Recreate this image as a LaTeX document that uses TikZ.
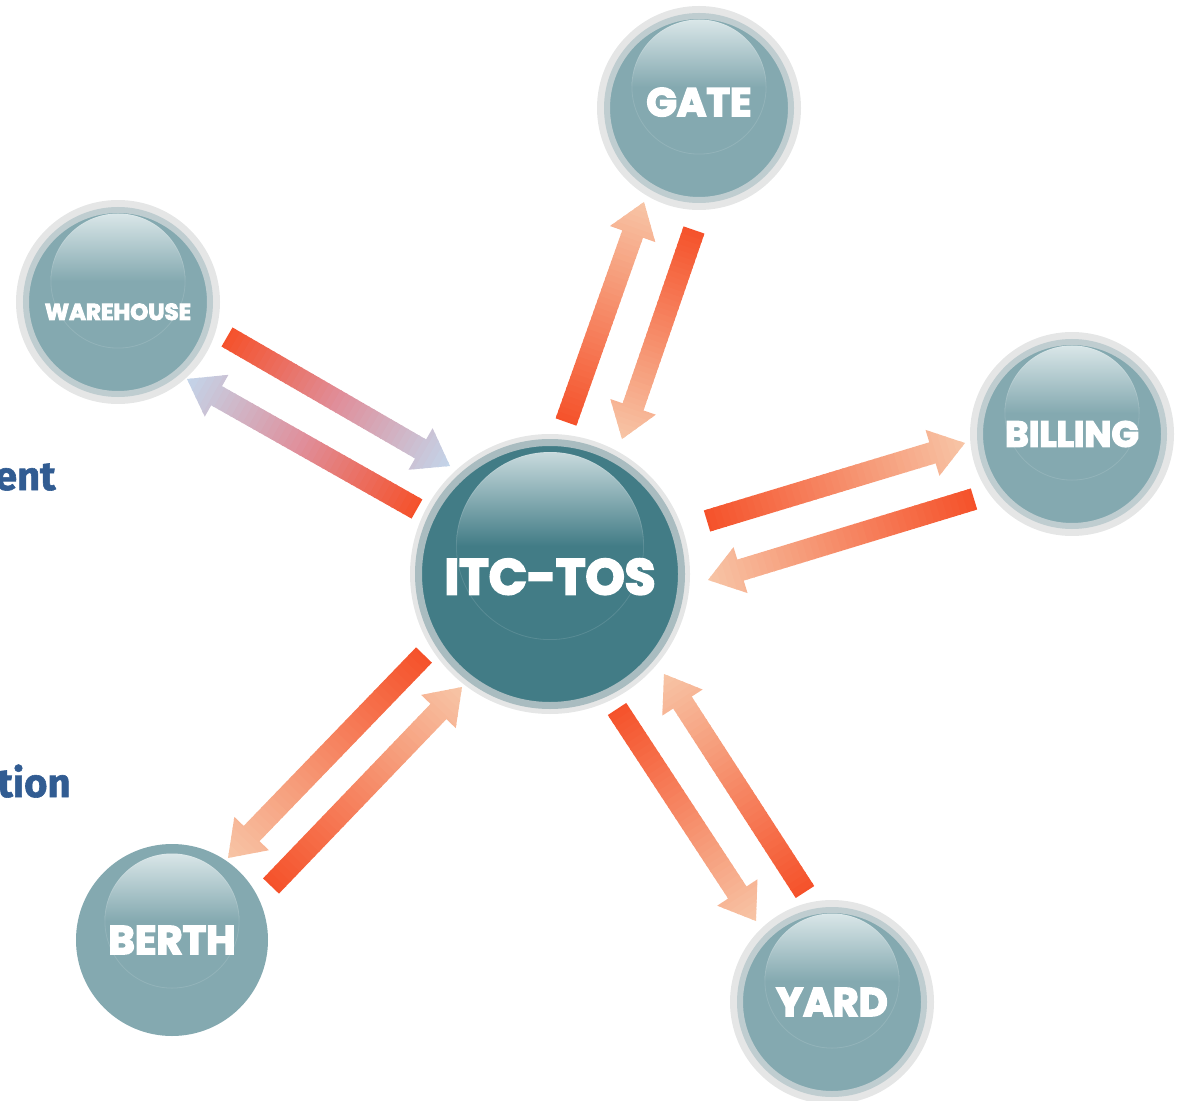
\documentclass[tikz,border=0pt]{standalone}
\usepackage{fontspec}
\usetikzlibrary{calc}

\newfontfamily\nodefont{Poppins}[FakeBold=4]
\newfontfamily\sidefont{Fira Sans}[FakeBold=1.5]

\definecolor{hubteal}{HTML}{427C86}
\definecolor{hubglare}{HTML}{C8DADD}
\definecolor{stationteal}{HTML}{84A9B0}
\definecolor{stationglare}{HTML}{D9E6E8}
\definecolor{hubring}{HTML}{A9BCC0}
\definecolor{stationring}{HTML}{BFCDD0}
\definecolor{ringlight}{HTML}{E5E6E6}
\definecolor{flowred}{HTML}{F5512A}
\definecolor{flowpeach}{HTML}{F7C5A6}
\definecolor{flowcoral}{HTML}{F68A67}
\definecolor{flowblue}{HTML}{C3D5EA}
\definecolor{flowpink}{HTML}{E08E9A}
\definecolor{sideblue}{HTML}{315C92}

% glossy cap: radius, lift, top of cap, light colour, base colour
\newcommand\glare[5]{%
  \begin{scope}
    \clip ([yshift=#2]path picture bounding box.center) circle (#1);
    \shade[top color=#4, middle color=#4!65!#5, bottom color=#5]
      ([xshift=-#1, yshift=#3]path picture bounding box.center)
      rectangle ([xshift=#1, yshift=#2]path picture bounding box.center);
    \draw[white, opacity=0.12, line width=0.8pt]
      ([yshift=#2]path picture bounding box.center) circle (#1);
  \end{scope}}

% fat arrow from #1 (tail) to #2 (tip), red running through #3 into #4
\newcommand\flowarrow[4]{%
  \begin{scope}
    \clip ($(#1)!5.5pt!90:(#2)$) -- ($(#2)!17.87pt!-17.93:(#1)$)
      -- ($(#2)!20.81pt!-35.22:(#1)$) -- (#2)
      -- ($(#2)!20.81pt!35.22:(#1)$) -- ($(#2)!17.87pt!17.93:(#1)$)
      -- ($(#1)!5.5pt!-90:(#2)$) -- cycle;
    \coordinate (fl-a) at ($(#1)!14pt!90:(#2)$);
    \coordinate (fl-b) at ($(#1)!14pt!-90:(#2)$);
    \coordinate (fl-c) at ($(#2)!14pt!-90:(#1)$);
    \coordinate (fl-d) at ($(#2)!14pt!90:(#1)$);
    \foreach \i in {0,...,40}{
      \pgfmathsetmacro\pos{\i/40}
      \ifnum\i<20
        \pgfmathtruncatemacro\mixpct{100-5*\i}
        \colorlet{flowfill}{flowred!\mixpct!#3}
      \else
        \pgfmathtruncatemacro\mixpct{200-5*\i}
        \colorlet{flowfill}{#3!\mixpct!#4}
      \fi
      \draw[line width=4pt, flowfill]
        ($(fl-a)!\pos!(fl-c)$) -- ($(fl-b)!\pos!(fl-d)$);
    }
  \end{scope}%
}

\begin{document}
\begin{tikzpicture}[x=0.5pt, y=-0.5pt,
    % round buttons
    bubble/.style={
        circle,
        inner sep=0pt,
        text=white
    },
    hub/.style={
        bubble,
        minimum size=131.5pt,
        fill=hubteal,
        draw=hubring,
        line width=3.5pt,
        preaction={draw=ringlight, line width=8.5pt},
        path picture={\glare{47pt}{14pt}{61pt}{hubglare}{hubteal}},
        font=\nodefont\bfseries\fontsize{25pt}{25pt}\selectfont
    },
    station/.style={
        bubble,
        minimum size=92pt,
        fill=stationteal,
        draw=stationring,
        line width=3pt,
        preaction={draw=ringlight, line width=10pt},
        path picture={\glare{33.75pt}{10.5pt}{44.25pt}{stationglare}{stationteal}},
        font=\nodefont\bfseries\fontsize{20pt}{20pt}\selectfont
    },
    plain station/.style={
        bubble,
        minimum size=96pt,
        fill=stationteal,
        path picture={\glare{33.75pt}{9.5pt}{43.25pt}{stationglare}{stationteal}},
        font=\nodefont\bfseries\fontsize{20pt}{20pt}\selectfont
    },
    sidetext/.style={
        font=\sidefont\bfseries\fontsize{20pt}{20pt}\selectfont,
        text=sideblue,
        inner sep=0pt,
        anchor=base east
    }
]
    \useasboundingbox (0,0) rectangle (1177,1101);

    % cut-off words on the left
    \node[sidetext] (ent) at (56,490) {ent};
    \node[sidetext] (tion) at (71,797) {tion};

    % arrow ends
    \coordinate (hub2gate-t) at (566,422);   \coordinate (hub2gate-h) at (644,202);
    \coordinate (gate2hub-t) at (694,230);   \coordinate (gate2hub-h) at (622,439);
    \coordinate (hub2bill-t) at (707,521);   \coordinate (hub2bill-h) at (965,443);
    \coordinate (bill2hub-t) at (974,499);   \coordinate (bill2hub-h) at (708,580);
    \coordinate (ware2hub-t) at (227,337);   \coordinate (ware2hub-h) at (450,466);
    \coordinate (hub2ware-t) at (417,509);   \coordinate (hub2ware-h) at (187,379);
    \coordinate (hub2berth-t) at (424,655);  \coordinate (hub2berth-h) at (228,858);
    \coordinate (berth2hub-t) at (271,886);  \coordinate (berth2hub-h) at (462,687);
    \coordinate (hub2yard-t) at (617,709);   \coordinate (hub2yard-h) at (756,921);
    \coordinate (yard2hub-t) at (805,892);   \coordinate (yard2hub-h) at (664,674);

    % arrows
    \flowarrow{hub2gate-t}{hub2gate-h}{flowcoral}{flowpeach}
    \flowarrow{gate2hub-t}{gate2hub-h}{flowcoral}{flowpeach}
    \flowarrow{hub2bill-t}{hub2bill-h}{flowcoral}{flowpeach}
    \flowarrow{bill2hub-t}{bill2hub-h}{flowcoral}{flowpeach}
    \flowarrow{ware2hub-t}{ware2hub-h}{flowpink}{flowblue}
    \flowarrow{hub2ware-t}{hub2ware-h}{flowpink}{flowblue}
    \flowarrow{hub2berth-t}{hub2berth-h}{flowcoral}{flowpeach}
    \flowarrow{berth2hub-t}{berth2hub-h}{flowcoral}{flowpeach}
    \flowarrow{hub2yard-t}{hub2yard-h}{flowcoral}{flowpeach}
    \flowarrow{yard2hub-t}{yard2hub-h}{flowcoral}{flowpeach}

    % buttons
    \node[hub, text height=20.5pt] (itc) at (550,574) {ITC-TOS};
    \node[station, text depth=6pt] (gate) at (699,108) {GATE};
    \node[station, font=\nodefont\bfseries\fontsize{18pt}{18pt}\selectfont] (billing) at (1072,434) {BILLING};
    \node[station, text height=18pt,
          font=\nodefont\bfseries\fontsize{11.5pt}{11.5pt}\selectfont] (warehouse) at (118,302) {WAREHOUSE};
    \node[plain station] (berth) at (172,940) {BERTH};
    \node[station] (yard) at (832,1002) {YARD};
\end{tikzpicture}
\end{document}
